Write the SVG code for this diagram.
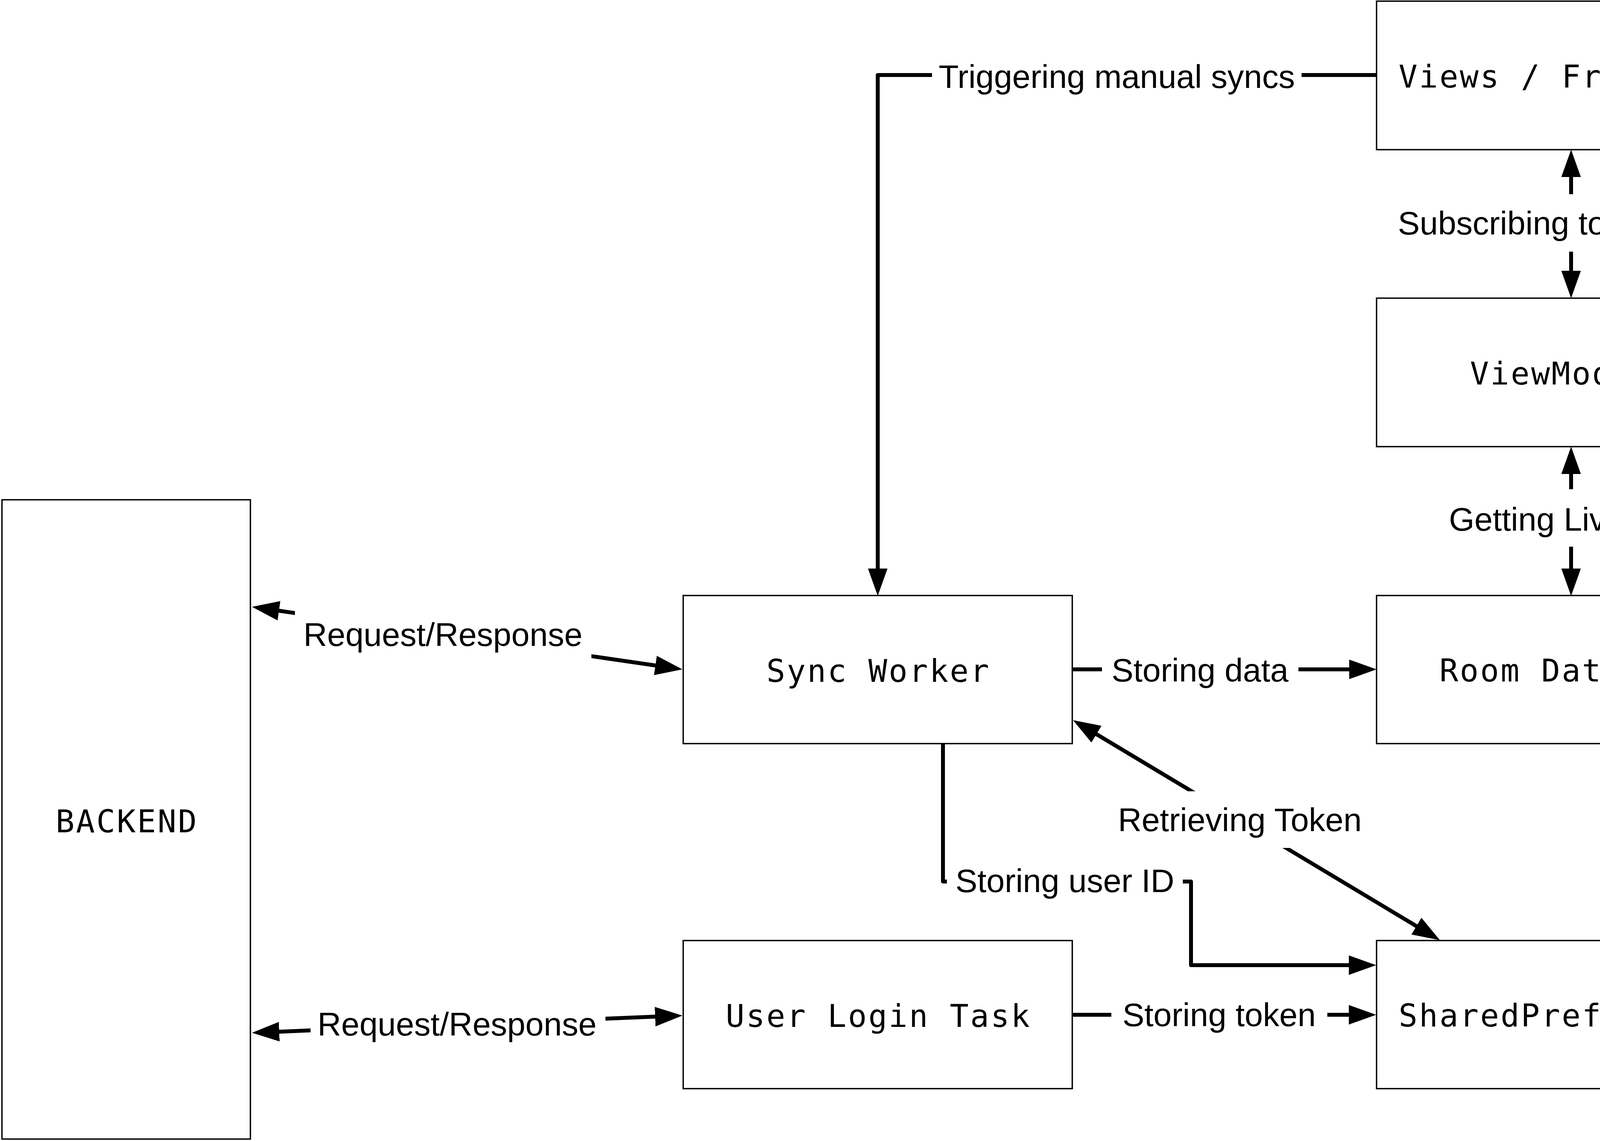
<svg xmlns="http://www.w3.org/2000/svg" width="4524" height="2920" viewBox="0 0 4524 2920">
<defs>
<marker id="ah" viewBox="0 0 70 50" markerWidth="70" markerHeight="50" refX="5" refY="25" orient="auto-start-reverse" markerUnits="userSpaceOnUse">
<path d="M0,0 L70,25 L0,50 Z" fill="#000"/>
</marker>
<style>
.box{fill:#fff;stroke:#000;stroke-width:3.5}
.bt{font-family:"DejaVu Sans Mono","Liberation Mono",monospace;font-size:80px;letter-spacing:4px;text-anchor:middle;fill:#000}
.con{fill:none;stroke:#000;stroke-width:10;stroke-linecap:round;stroke-linejoin:round}
.lbg{fill:#fff;stroke:none}
.lt{font-family:"Liberation Sans",Arial,sans-serif;font-size:84px;text-anchor:middle;fill:#000}
</style>
</defs>
<rect width="4524" height="2920" fill="#fff"/>

<g id="connectors">
<path class="con" d="M3524,192 H2247 V1460" marker-end="url(#ah)"/>
<path class="con" d="M4022,448 V698" marker-start="url(#ah)" marker-end="url(#ah)"/>
<path class="con" d="M4022,1208 V1460" marker-start="url(#ah)" marker-end="url(#ah)"/>
<path class="con" d="M2746,1713 H3459" marker-end="url(#ah)"/>
<path class="con" d="M2802.7,1876.4 L3630.3,2372.6" marker-start="url(#ah)" marker-end="url(#ah)"/>
<path class="con" d="M2414,1903 V2256 H3049 V2470 H3458" marker-end="url(#ah)"/>
<path class="con" d="M2746,2597 H3458" marker-end="url(#ah)"/>
<path class="con" d="M709.3,1562.3 L1682.7,1703.7" marker-start="url(#ah)" marker-end="url(#ah)"/>
<path class="con" d="M709.9,2640.4 L1682.1,2601.6" marker-start="url(#ah)" marker-end="url(#ah)"/>

<g id="connector-labels">
<rect class="lbg" x="2386" y="140" width="946" height="110"/>
<text class="lt" x="2859" y="225">Triggering manual syncs</text>
<rect class="lbg" x="3560" y="497" width="930" height="147"/>
<text class="lt" x="4022" y="600">Subscribing to LiveData</text>
<rect class="lbg" x="3690" y="1252" width="665" height="147"/>
<text class="lt" x="4022" y="1358">Getting LiveData</text>
<rect class="lbg" x="2821" y="1660" width="503" height="110"/>
<text class="lt" x="3072" y="1744">Storing data</text>
<rect class="lbg" x="2850" y="2025" width="650" height="145"/>
<text class="lt" x="3174" y="2127">Retrieving Token</text>
<rect class="lbg" x="2424" y="2200" width="604" height="110"/>
<text class="lt" x="2726" y="2283">Storing user ID</text>
<rect class="lbg" x="2845" y="2545" width="553" height="105"/>
<text class="lt" x="3121" y="2626">Storing token</text>
<rect class="lbg" x="755" y="1555" width="759" height="135"/>
<text class="lt" x="1134" y="1653">Request/Response</text>
<rect class="lbg" x="795" y="2575" width="755" height="100"/>
<text class="lt" x="1170" y="2650">Request/Response</text>
</g>
</g>

<g id="views-fragments">
<rect class="box" x="3524" y="3" width="996" height="380"/>
<text class="bt" x="4024" y="224">Views / Fragments</text>
</g>
<g id="viewmodels">
<rect class="box" x="3524" y="763" width="996" height="380"/>
<text class="bt" x="4024" y="984">ViewModels</text>
</g>
<g id="room-database">
<rect class="box" x="3524" y="1524" width="996" height="379"/>
<text class="bt" x="4024" y="1744">Room Database</text>
</g>
<g id="shared-preferences">
<rect class="box" x="3524" y="2407" width="996" height="379"/>
<text class="bt" x="4024" y="2627">SharedPreferences</text>
</g>
<g id="sync-worker">
<rect class="box" x="1749" y="1524" width="996" height="379"/>
<text class="bt" x="2249" y="1745">Sync Worker</text>
</g>
<g id="user-login-task">
<rect class="box" x="1749" y="2407" width="996" height="379"/>
<text class="bt" x="2249" y="2628">User Login Task</text>
</g>
<g id="backend">
<rect class="box" x="5" y="1279" width="636" height="1636"/>
<text class="bt" x="325" y="2130">BACKEND</text>
</g>
</svg>
